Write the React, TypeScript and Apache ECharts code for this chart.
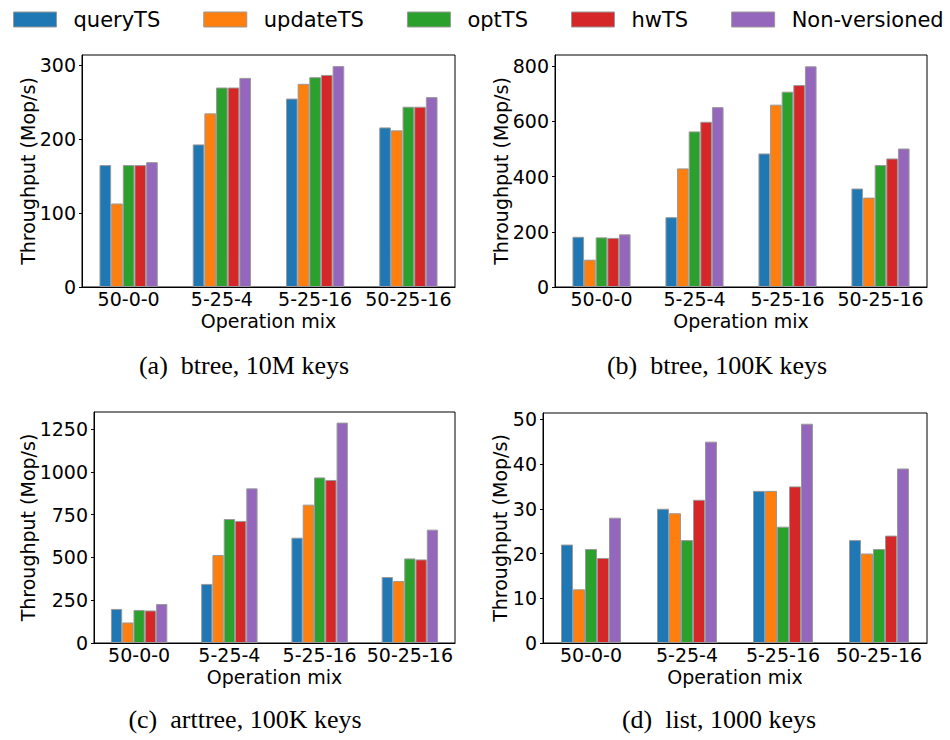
import React, { useEffect, useRef } from "react";
import * as echarts from "echarts";

const categories = ["50-0-0", "5-25-4", "5-25-16", "50-25-16"];
const seriesNames = ["queryTS", "updateTS", "optTS", "hwTS", "Non-versioned"];
const colors = ["#1f77b4", "#ff7f0e", "#2ca02c", "#d62728", "#9467bd"];

// (a) btree, 10M keys
const btree10M_queryTS = [165, 193, 255, 216];
const btree10M_updateTS = [113, 235, 275, 212];
const btree10M_optTS = [165, 270, 284, 244];
const btree10M_hwTS = [165, 270, 287, 244];
const btree10M_nonVersioned = [169, 283, 299, 257];

// (b) btree, 100K keys
const btree100K_queryTS = [182, 253, 484, 357];
const btree100K_updateTS = [99, 430, 661, 324];
const btree100K_optTS = [180, 564, 708, 442];
const btree100K_hwTS = [178, 599, 732, 466];
const btree100K_nonVersioned = [191, 652, 800, 502];

// (c) arttree, 100K keys
const arttree_queryTS = [199, 345, 615, 385];
const arttree_updateTS = [120, 514, 808, 362];
const arttree_optTS = [193, 724, 967, 494];
const arttree_hwTS = [190, 713, 952, 488];
const arttree_nonVersioned = [228, 903, 1287, 662];

// (d) list, 1000 keys
const list_queryTS = [22, 30, 34, 23];
const list_updateTS = [12, 29, 34, 20];
const list_optTS = [21, 23, 26, 21];
const list_hwTS = [19, 32, 35, 24];
const list_nonVersioned = [28, 45, 49, 39];

const captions = ["(a)\u00A0 btree, 10M keys", "(b)\u00A0 btree, 100K keys", "(c)\u00A0 arttree, 100K keys", "(d)\u00A0 list, 1000 keys"];
const yMax = [314, 841, 1349, 51.4];
const yInterval = [100, 200, 250, 10];

const panels = [
  [btree10M_queryTS, btree10M_updateTS, btree10M_optTS, btree10M_hwTS, btree10M_nonVersioned],
  [btree100K_queryTS, btree100K_updateTS, btree100K_optTS, btree100K_hwTS, btree100K_nonVersioned],
  [arttree_queryTS, arttree_updateTS, arttree_optTS, arttree_hwTS, arttree_nonVersioned],
  [list_queryTS, list_updateTS, list_optTS, list_hwTS, list_nonVersioned],
];

const grids = [
  { left: 82, top: 55, width: 373, height: 232 },
  { left: 555, top: 55, width: 372, height: 232 },
  { left: 94, top: 412, width: 361, height: 231 },
  { left: 543, top: 413, width: 384, height: 230 },
];
const yNameGap = [45, 45, 57, 34];
const captionPos = [
  { x: 239, y: 347 },
  { x: 712, y: 347 },
  { x: 240, y: 701 },
  { x: 714, y: 701 },
];

const FONT = "DejaVu Sans";

export default function App() {
  const ref = useRef<HTMLDivElement>(null);
  useEffect(() => {
    if (!ref.current) return;
    const chart = echarts.init(ref.current, undefined, { renderer: "svg" });
    const series: any[] = [];
    panels.forEach((panel, p) => {
      panel.forEach((vals, m) => {
        series.push({
          type: "bar",
          name: seriesNames[m],
          xAxisIndex: p,
          yAxisIndex: p,
          data: vals,
          barWidth: "12.5%",
          barGap: "0%",
          itemStyle: { color: colors[m], borderColor: "#999999", borderWidth: 1 },
        });
      });
    });
    const option: any = {
      animation: false,
      backgroundColor: "#ffffff",
      legend: {
        data: seriesNames,
        left: 8,
        top: 4,
        itemWidth: 43,
        itemHeight: 15,
        itemGap: 43,
        icon: "rect",
        textStyle: { fontFamily: FONT, fontSize: 21, color: "#000", padding: [0, 0, 0, 12] },
        itemStyle: { borderColor: "#999999", borderWidth: 1 },
      },
      title: captions.map((c, i) => ({
        text: c,
        left: captionPos[i].x,
        top: captionPos[i].y,
        textAlign: "center",
        textStyle: { fontFamily: "Liberation Serif", fontSize: 26, fontWeight: "normal", color: "#000" },
      })),
      grid: grids.map((g) => ({ ...g, show: true, borderColor: "#000", borderWidth: 1, backgroundColor: "transparent" })),
      xAxis: grids.map((_, i) => ({
        type: "category",
        gridIndex: i,
        data: categories,
        name: "Operation mix",
        nameLocation: "middle",
        nameGap: 24,
        nameMoveOverlap: false,
        nameTextStyle: { fontFamily: FONT, fontSize: 19, lineHeight: 19, color: "#000" },
        axisLine: { lineStyle: { color: "#000", width: 1 } },
        axisTick: { alignWithLabel: true, length: 3, lineStyle: { color: "#000" } },
        axisLabel: { fontFamily: FONT, fontSize: 19, lineHeight: 19, color: "#000", margin: 2, interval: 0, hideOverlap: false },
        splitLine: { show: false },
      })),
      yAxis: grids.map((_, i) => ({
        type: "value",
        gridIndex: i,
        min: 0,
        max: yMax[i],
        interval: yInterval[i],
        name: "Throughput (Mop/s)",
        nameLocation: "middle",
        nameGap: yNameGap[i],
        nameMoveOverlap: false,
        nameTextStyle: { fontFamily: FONT, fontSize: 19, lineHeight: 19, color: "#000" },
        axisLine: { show: true, lineStyle: { color: "#000", width: 1 } },
        axisTick: { show: true, length: 3, lineStyle: { color: "#000" } },
        axisLabel: {
          fontFamily: FONT,
          fontSize: 19,
          color: "#000",
          margin: 6,
          showMaxLabel: false,
          formatter: (v: number) => (v % yInterval[i] === 0 ? String(v) : ""),
        },
        splitLine: { show: false },
      })),
      series,
    };
    chart.setOption(option);
    return () => chart.dispose();
  }, []);
  return (
    <div
      ref={ref}
      style={{ position: "fixed", left: 0, top: 0, width: 950, height: 740, background: "#fff" }}
    />
  );
}
